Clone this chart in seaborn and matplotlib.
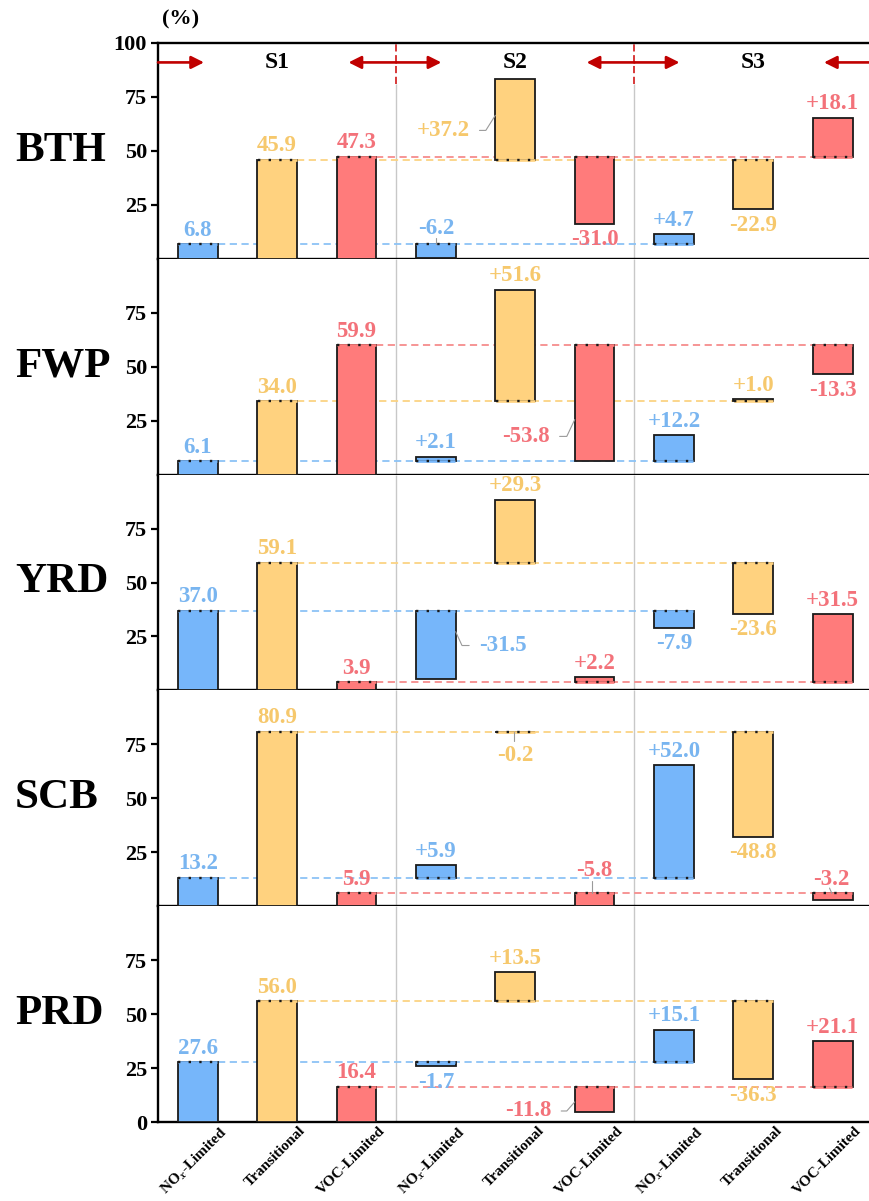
import numpy as np
import pandas as pd
import seaborn as sns
import matplotlib.pyplot as plt
from matplotlib import transforms

regions = ['BTH', 'FWP', 'YRD', 'SCB', 'PRD']
regimes = [r'NO$_x$-Limited', 'Transitional', 'VOC-Limited']
scenarios = ['S1', 'S2', 'S3']

# S1: share of each regime (%); S2 and S3: change relative to S1
s1_share = [
    [6.8, 45.9, 47.3],
    [6.1, 34.0, 59.9],
    [37.0, 59.1, 3.9],
    [13.2, 80.9, 5.9],
    [27.6, 56.0, 16.4],
]
s2_change = [
    [-6.2, 37.2, -31.0],
    [2.1, 51.6, -53.8],
    [-31.5, 29.3, 2.2],
    [5.9, -0.2, -5.8],
    [-1.7, 13.5, -11.8],
]
s3_change = [
    [4.7, -22.9, 18.1],
    [12.2, 1.0, -13.3],
    [-7.9, -23.6, 31.5],
    [52.0, -48.8, -3.2],
    [15.1, -36.3, 21.1],
]

bar_colors = ['#76b6fa', '#ffd27f', '#ff7b7b']
text_colors = ['#79b5f0', '#f6c86c', '#f3727a']
line_colors = ['#8cc3f6', '#fbd383', '#f68c8c']

# labels moved away from the default spot: (region, scenario, regime) -> (x, y, leader line)
label_spots = {
    (0, 1, 0): (3.0, 14.0, [(3.0, 9.8), (3.0, 6.8)]),
    (0, 1, 1): (3.1, 59.5, [(3.55, 59.5), (3.63, 59.5), (3.75, 66.5)]),
    (1, 1, 2): (4.13, 17.7, [(4.56, 17.7), (4.65, 17.7), (4.75, 25.5)]),
    (2, 1, 0): (3.84, 20.8, [(3.25, 27.2), (3.33, 20.8), (3.42, 20.8)]),
    (3, 1, 1): (4.0, 69.8, [(3.98, 80.6), (3.98, 76.5)]),
    (3, 1, 2): (5.0, 16.7, [(4.97, 11.5), (4.97, 5.9)]),
    (3, 2, 2): (7.98, 12.6, [(7.96, 8.4), (7.99, 5.9)]),
    (4, 1, 2): (4.16, 5.1, [(4.58, 5.1), (4.65, 5.1), (4.75, 9.3)]),
}

sns.set_style('ticks', rc={'axes.edgecolor': 'black', 'text.color': 'black',
                           'xtick.color': 'black', 'ytick.color': 'black'})
plt.rcParams['font.family'] = ['Liberation Serif', 'DejaVu Serif']
plt.rcParams['font.weight'] = 'bold'
plt.rcParams['mathtext.fontset'] = 'stix'

fig = plt.figure(figsize=(8.7, 12.01), dpi=100)
left = 158 / 870
width = 1 - left
height = 215.8 / 1201
bottom0 = 1 - 1122 / 1201

keys = [f'{s}-{j}' for s in scenarios for j in range(3)]
vsize = 16.5

for k, reg in enumerate(regions):
    ax = fig.add_axes([left, bottom0 + (4 - k) * height, width, height])
    base = s1_share[k]
    heights = base + s2_change[k] + s3_change[k]
    bottoms = np.array([0, 0, 0] + base + base, dtype=float)
    df = pd.DataFrame({'key': keys, 'value': heights})
    sns.barplot(data=df, x='key', y='value', bottom=bottoms, width=0.5,
                color=bar_colors[0], saturation=1, errorbar=None,
                edgecolor='#1a1a1a', linewidth=1.3, ax=ax, zorder=3)
    for i, patch in enumerate(ax.patches):
        patch.set_facecolor(bar_colors[i % 3])

    # edge at the S1 level is dotted
    for i in range(9):
        j = i % 3
        ax.hlines(base[j], i - 0.245, i + 0.245, color=bar_colors[j], lw=1.9, zorder=4)
        ax.hlines(base[j], i - 0.245, i + 0.245, color='#1a1a1a', lw=1.7,
                  linestyles=(0, (1, 3.5)), zorder=5)

    # S1 reference levels
    for j in range(3):
        ax.hlines(base[j], j + 0.25, j + 5.75, color=line_colors[j], lw=1.3,
                  linestyles=(0, (4, 2.5)), zorder=2)

    # scenario separators
    if k == 0:
        ax.vlines([2.5, 5.5], 0, 81, color='#c8c8c8', lw=1, zorder=1)
        ax.vlines([2.5, 5.5], 81, 100, color='#d42a2a', lw=1.3,
                  linestyles=(0, (4, 2)), zorder=1)
    else:
        ax.vlines([2.5, 5.5], 0, 100, color='#c8c8c8', lw=1, zorder=1)

    # value labels
    changes = [base, s2_change[k], s3_change[k]]
    for s in range(3):
        for j in range(3):
            i = s * 3 + j
            v = changes[s][j]
            txt = f'{v:.1f}' if s == 0 else f'{v:+.1f}'
            spot = label_spots.get((k, s, j))
            if spot is not None:
                x, y, leader = spot
                ax.text(x, y, txt, ha='center', va='center', color=text_colors[j],
                        fontsize=vsize, zorder=6)
                lx, ly = zip(*leader)
                ax.plot(lx, ly, color='#9a9a9a', lw=0.8, zorder=6)
                continue
            b = 0 if s == 0 else base[j]
            top, low = max(b, b + v), min(b, b + v)
            if s == 0 or v >= 0:
                ax.annotate(txt, (i, top), xytext=(0, 2.5), textcoords='offset points',
                            ha='center', va='bottom', color=text_colors[j], fontsize=vsize, zorder=6)
            else:
                ax.annotate(txt, (i, low), xytext=(0, -4), textcoords='offset points',
                            ha='center', va='top', color=text_colors[j], fontsize=vsize, zorder=6)

    ax.set_xlim(-0.5, 8.47)
    ax.set_ylim(0, 100)
    ax.set_xlabel('')
    ax.set_ylabel('')
    if k == 0:
        ax.set_yticks([25, 50, 75, 100])
    elif k == 4:
        ax.set_yticks([0, 25, 50, 75])
    else:
        ax.set_yticks([25, 50, 75])
    ax.tick_params(axis='y', length=5, width=1.6, labelsize=16, pad=3)
    ax.set_xticks(range(9))
    ax.tick_params(axis='x', length=0)
    if k == 4:
        ax.set_xticklabels(regimes * 3, rotation=45, ha='right',
                           rotation_mode='anchor', fontsize=11)
        shift = transforms.ScaledTranslation(16 / 72, 2 / 72, fig.dpi_scale_trans)
        for lab in ax.get_xticklabels():
            lab.set_transform(lab.get_transform() + shift)
    else:
        ax.tick_params(axis='x', labelbottom=False)

    for side in ['left', 'bottom', 'top']:
        ax.spines[side].set_linewidth(1.7)
    ax.spines['right'].set_visible(False)
    ax.spines['top'].set_visible(k == 0)

    ax.text(-0.2008, 0.5, reg, transform=ax.transAxes, ha='left', va='center', fontsize=31)

    if k == 0:
        ax.text(0.005, 1.11, '(%)', transform=ax.transAxes, ha='left', va='center', fontsize=16)
        for s, xc in zip(scenarios, [1, 4, 7]):
            ax.text(xc, 91, s, ha='center', va='center', fontsize=17, zorder=6)
        arrows = [(-0.5, 0.08), (2.5, 1.9), (2.5, 3.07), (5.5, 4.9), (5.5, 6.07), (8.47, 7.89)]
        for x0, x1 in arrows:
            ax.annotate('', xy=(x1, 91), xytext=(x0, 91),
                        arrowprops=dict(arrowstyle='-|>', color='#c00000', lw=1.9,
                                        mutation_scale=19, shrinkA=0, shrinkB=0),
                        annotation_clip=False, zorder=6)

fig.savefig('out.png', dpi=100)
